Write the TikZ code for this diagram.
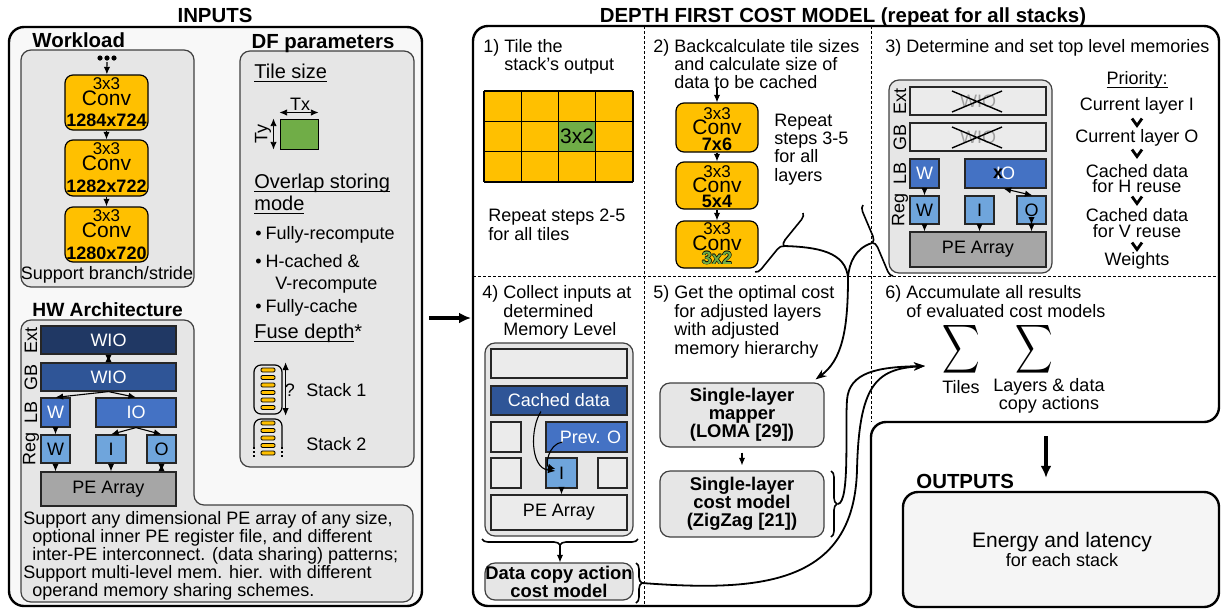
\documentclass[tikz,border=0pt]{standalone}
\usepackage{fontspec}
\usepackage{graphicx}
\setmainfont{Liberation Sans}
\usetikzlibrary{arrows.meta,decorations.pathreplacing}

\definecolor{convfill}{HTML}{FFC000}
\definecolor{tilegreen}{HTML}{70AD47}
\definecolor{extblue}{HTML}{203864}
\definecolor{gbblue}{HTML}{2F5597}
\definecolor{lbblue}{HTML}{4472C4}
\definecolor{regblue}{HTML}{6FA5DC}
\definecolor{pegray}{HTML}{A6A6A6}
\definecolor{panel}{HTML}{E6E6E6}
\definecolor{slot}{HTML}{EBEBEB}
\definecolor{panelline}{HTML}{404040}
\definecolor{inbg}{HTML}{F8F8F8}
\definecolor{outbg}{HTML}{F5F5F5}
\definecolor{struck}{HTML}{A0A0A0}

\newcommand\setfs[2]{\fontsize{#1}{#2}\selectfont}
\newsavebox\ulbox
\newcommand\ulx[1]{\sbox\ulbox{#1}\rlap{\rule[-1.8pt]{\wd\ulbox}{0.5pt}}\usebox\ulbox}
\newcommand\txtlines[1]{\begin{tabular}[t]{@{}l@{}}#1\end{tabular}}
\newcommand\outlined[1]{\leavevmode
  \rlap{\hspace*{-0.35pt}#1}\rlap{\hspace*{0.35pt}#1}%
  \rlap{\raisebox{0.35pt}{#1}}\rlap{\raisebox{-0.35pt}{#1}}%
  \textcolor{tilegreen}{#1}}

\begin{document}
\begin{tikzpicture}[x=0.5pt,y=-0.5pt,
  >={Latex[length=3.8pt,width=3.2pt]},
  sz/.style 2 args={minimum width=#1*0.5pt, minimum height=#2*0.5pt},
  bigbox/.style={draw, line width=1.2pt, rounded corners=7.5pt, inner sep=0},
  panelbox/.style={draw=panelline, fill=panel, line width=0.6pt, rounded corners=5pt, inner sep=0},
  mem/.style={draw=black!85, line width=0.6pt, inner sep=0, font=\setfs{9}{9}},
  conv/.style={draw, fill=convfill, line width=0.6pt, rounded corners=4pt, inner sep=0},
  lbl/.style={inner sep=0, font=\setfs{9}{9}},
  para/.style={inner sep=0, anchor=base west, font=\setfs{9}{#1}},
  head/.style={inner sep=0, anchor=base, font=\setfs{10.2}{11}\bfseries},
  sub/.style={inner sep=0, anchor=base west, font=\setfs{10}{11}},
  ck/.style={inner sep=0, font=\setfs{8.5}{8.5}},
  cc/.style={inner sep=0, font=\setfs{10.5}{10.5}},
  cs/.style={inner sep=0, font=\setfs{9}{9}\bfseries},
  tool/.style={draw=panelline, fill=panel, line width=0.6pt, rounded corners=5pt, inner sep=0, align=center, font=\setfs{9.2}{9}\bfseries},
  arr/.style={->, line width=0.55pt},
  darr/.style={<->, line width=0.55pt},
  flow/.style={line width=0.9pt},
  flowarr/.style={line width=0.9pt, -{Stealth[length=5.5pt,width=4pt]}},
  bigarr/.style={line width=1.6pt, -{Latex[length=6pt,width=5.5pt]}},
  brc/.style={decorate, decoration={brace, amplitude=3pt}, line width=0.8pt},
  chev/.style={line width=1.4pt},
  divider/.style={line width=0.4pt, dash pattern=on 1.5pt off 1pt},
  bar/.style={draw, fill=convfill, line width=0.4pt, rounded corners=0.6pt},
]
\useasboundingbox (0,0) rectangle (1222,612);

%% ================= INPUTS =================
\node[bigbox, fill=inbg, sz={413}{579}] (inputs) at (215.5,316.5) {};
\node[head] (inputsT) at (215,22) {INPUTS};

% --- workload ---
\node[panelbox, sz={173}{237}] (wlpanel) at (107.5,168.5) {};
\node[head, anchor=base west] (wlT) at (32,47) {Workload};
\foreach \dx in {-7,0,7} \fill (107+\dx,58) circle (1.3pt);
\coordinate (wldots) at (107,62);
\node[conv, sz={83}{55}] (wa) at (106.5,102.5) {};
\node[conv, sz={83}{56}] (wb) at (106.5,168) {};
\node[conv, sz={83}{55}] (wc) at (106.5,234.5) {};
\node[ck] (wak) at (106.5,84) {3x3};
\node[cc] (wac) at (106.5,98) {Conv};
\node[cs] (was) at (106.5,120) {1284x724};
\node[ck] (wbk) at (106.5,149) {3x3};
\node[cc] (wbc) at (106.5,163) {Conv};
\node[cs] (wbs) at (106.5,186) {1282x722};
\node[ck] (wck) at (106.5,216) {3x3};
\node[cc] (wcc) at (106.5,230) {Conv};
\node[cs] (wcs) at (106.5,253) {1280x720};
\draw[arr] (wldots) -- (wa);
\draw[arr] (wa) -- (wb);
\draw[arr] (wb) -- (wc);
\node[lbl] (wlnote) at (107,275) {Support branch/stride};

% --- DF parameters ---
\node[panelbox, sz={174}{416}] (dfpanel) at (327,259) {};
\node[head] (dfT) at (323,48) {DF parameters};
\node[sub] (tsT) at (254,78) {\ulx{Tile size}};
\node[draw, fill=tilegreen, line width=0.5pt, sz={38}{30}, inner sep=0] (tile) at (299,134) {};
\draw[darr, line width=0.4pt] ([yshift=3pt]tile.north west) -- ([yshift=3pt]tile.north east);
\node[lbl] (tx) at (300,104) {Tx};
\draw[darr, line width=0.4pt] ([xshift=-3pt]tile.north west) -- ([xshift=-3pt]tile.south west);
\node[lbl, rotate=90] (ty) at (263,134) {Ty};
\node[sub] (osT) at (254,188) {\txtlines{\ulx{Overlap storing}\\\ulx{mode}}};
\node[para=9] (ov1) at (255,239.5) {\textbullet\hspace{2pt}Fully-recompute};
\node[para=9] (ov2) at (255,267.5) {\textbullet\hspace{2pt}H-cached \&};
\node[para=9] (ov2b) at (275,289.5) {V-recompute};
\node[para=9] (ov3) at (255,312.5) {\textbullet\hspace{2pt}Fully-cache};
\node[sub] (fdT) at (254,338) {\ulx{Fuse depth}*};
% stack 1
\node[draw, line width=0.6pt, rounded corners=3.5pt, sz={28}{49}, inner sep=0] (st1) at (268,389.5) {};
\foreach \y in {370,377.5,385,392.5,400,407.5} \draw[bar] (261,\y-2) rectangle (275,\y+2);
\draw[darr, line width=0.4pt] ([xshift=1.5pt,yshift=1pt]st1.north east) -- ([xshift=1.5pt,yshift=-0.5pt]st1.south east);
\node[lbl] (q1) at (290,390) {?};
\node[para=9] (s1lbl) at (306,396.5) {Stack 1};
% stack 2
\draw[line width=0.6pt, rounded corners=3.5pt] (254,447) -- (254,419) -- (282,419) -- (282,447);
\draw[line width=0.6pt, dash pattern=on 1pt off 1pt] (254,447) -- (254,457) (282,447) -- (282,457);
\foreach \y in {423,430.5,438,445.5,453} \draw[bar] (261,\y-2) rectangle (275,\y+2);
\node[para=9] (s2lbl) at (306,450.5) {Stack 2};

% --- HW architecture ---
\draw[panelbox] (21,320) -- (194,320) -- (194,505) -- (413,505) -- (413,602) -- (21,602) -- cycle;
\node[head, anchor=base west, font=\setfs{9.6}{11}\bfseries] (hwT) at (32,316) {HW Architecture};
\node[mem, fill=extblue, text=white, sz={135}{28}] (hext) at (108.5,340) {WIO};
\node[mem, fill=gbblue, text=white, sz={135}{28}] (hgb) at (108.5,377) {WIO};
\node[mem, fill=lbblue, text=white, sz={29}{29}] (hlbw) at (55.5,412.5) {W};
\node[mem, fill=lbblue, text=white, sz={80}{29}] (hlbio) at (136,412.5) {IO};
\node[mem, fill=regblue, sz={29}{28}] (hrw) at (55.5,449) {W};
\node[mem, fill=regblue, sz={30}{28}] (hri) at (111,449) {I};
\node[mem, fill=regblue, sz={29}{28}] (hro) at (161.5,449) {O};
\node[mem, fill=pegray, sz={135}{34}] (hpe) at (108.5,489) {PE Array};
\node[lbl, rotate=90] (hlext) at (31,340) {Ext};
\node[lbl, rotate=90] (hlgb) at (31,377) {GB};
\node[lbl, rotate=90] (hllb) at (31,412.5) {LB};
\node[lbl, rotate=90] (hlreg) at (31,449) {Reg};
\draw[darr] (hext) -- (hgb);
\draw[arr] (hgb.south) -- (hlbw.north);
\draw[arr] (hgb.south) -- (hlbio.north);
\draw[arr] (hlbw) -- (hrw);
\draw[arr] (hlbio.south) -- (hri.north);
\draw[arr] (hlbio.south) -- (hro.north);
\draw[arr] (hrw) -- (hrw |- hpe.north);
\draw[arr] (hri) -- (hri |- hpe.north);
\draw[darr] (hro) -- (hro |- hpe.north);
\node[para=8.5] (hwtxt1) at (23,524.5) {\txtlines{Support any dimensional PE array of any size,\\\hspace*{4.5pt}optional inner PE register file, and different\\\hspace*{4.5pt}inter-PE interconnect. (data sharing) patterns;}};
\node[para=8.8] (hwtxt2) at (23,578.5) {\txtlines{Support multi-level mem. hier. with different\\\hspace*{4.5pt}operand memory sharing schemes.}};

%% ================= DEPTH FIRST COST MODEL =================
\coordinate (dfin) at (471,318);
\draw[bigarr, shorten <=3pt] (inputs.east |- dfin) -- (dfin);
\draw[bigbox, fill=white] (473,606) -- (473,26) -- (1219,26) -- (1219,422) -- (871,422) -- (871,606) -- cycle;
\draw[divider] (473,276) -- (1219,276);
\draw[divider] (644,26) -- (644,606);
\draw[divider] (871,26) -- (871,422);
\node[head] (dfcmT) at (843,22) {DEPTH FIRST COST MODEL (repeat for all stacks)};

% --- step 1: tiling ---
\node[para=8.75] (r1T) at (483,52.5) {1)~\txtlines{Tile the\\stack's output}};
\fill[convfill] (484,91) rectangle (633,182);
\fill[tilegreen] (558.5,121.33) rectangle (595.75,151.67);
\foreach \x in {484,521.25,558.5,595.75,633} \draw[line width=0.6pt] (\x,91) -- (\x,182);
\foreach \y in {91,121.33,151.67,182} \draw[line width=0.6pt] (484,\y) -- (633,\y);
\node[cc] (tile32) at (577,136.5) {3x2};
\node[para=9.5] (r1rep) at (488,221.5) {\txtlines{Repeat steps 2-5\\for all tiles}};

% --- step 2: back-calculation ---
\node[para=8.5] (r2T) at (653,52.5) {2)~\txtlines{Backcalculate tile sizes\\and calculate size of\\data to be cached}};
\coordinate (r2in) at (717,88);
\node[conv, sz={82}{49}] (rc1) at (717,127.5) {};
\node[conv, sz={82}{47}] (rc2) at (717,185.5) {};
\node[conv, sz={82}{47}] (rc3) at (717,244.5) {};
\node[ck] (rc1k) at (717,114) {3x3};
\node[cc] (rc1c) at (717,127) {Conv};
\node[cs] (rc1s) at (717,144) {7x6};
\node[ck] (rc2k) at (717,172) {3x3};
\node[cc] (rc2c) at (717,185) {Conv};
\node[cs] (rc2s) at (717,201) {5x4};
\node[ck] (rc3k) at (717,229) {3x3};
\node[cc] (rc3c) at (717,243) {Conv};
\node[cs] (rc3s) at (717,258) {\outlined{3x2}};
\draw[arr] (r2in) -- (rc1);
\draw[arr] (rc1) -- (rc2);
\draw[arr] (rc2) -- (rc3);
\node[para=9] (r2rep) at (774,126.5) {\txtlines{Repeat\\steps 3-5\\for all\\layers}};

% --- step 3: top level memories ---
\node[para=9] (r3T) at (885,52.5) {3)~Determine and set top level memories};
\node[panelbox, sz={163}{193}] (panel3) at (970.5,176.5) {};
\node[mem, fill=slot, text=struck, sz={136}{28}] (m3ext) at (978,101) {WIO};
\node[mem, fill=slot, text=struck, sz={136}{28}] (m3gb) at (978,137) {WIO};
\draw[line width=0.7pt] (952,91) -- (1002,112) (952,112) -- (1002,91);
\draw[line width=0.7pt] (952,127) -- (1002,148) (952,148) -- (1002,127);
\node[mem, fill=lbblue, text=white, sz={29}{29}] (m3lbw) at (924.5,173.5) {W};
\node[mem, fill=lbblue, text=white, sz={81}{29}] (m3lbio) at (1005.5,173.5) {IO};
\node[inner sep=0, font=\setfs{9}{9}\bfseries] (m3x) at (998,174) {x};
\node[mem, fill=regblue, sz={29}{28}] (m3rw) at (924.5,210) {W};
\node[mem, fill=regblue, sz={29}{28}] (m3ri) at (979.5,210) {I};
\node[mem, fill=regblue, sz={29}{28}] (m3ro) at (1031.5,210) {O};
\node[mem, fill=pegray, sz={136}{35}] (m3pe) at (978,249.5) {PE Array};
\node[lbl, rotate=90] (m3lext) at (900,101) {Ext};
\node[lbl, rotate=90] (m3lgb) at (900,137) {GB};
\node[lbl, rotate=90] (m3llb) at (900,173.5) {LB};
\node[lbl, rotate=90] (m3lreg) at (900,210) {Reg};
\draw[arr] (m3lbw) -- (m3rw);
\draw[arr] (m3rw) -- (m3rw |- m3pe.north);
\draw[arr] (m3ri) -- (m3ri |- m3pe.north);
\draw[darr] (m3ro) -- (m3ro |- m3pe.north);
\draw[darr] ([xshift=0.5pt]m3ro.north) -- ([xshift=-1pt]m3lbio.south);
% priority list
\node[lbl] (prT) at (1137,80) {\ulx{Priority:}};
\node[lbl] (p1) at (1137,106) {Current layer I};
\node[lbl] (p2) at (1137,138) {Current layer O};
\node[lbl] (p3) at (1137,171) {Cached data};
\node[lbl] (p3b) at (1137,186) {for H reuse};
\node[lbl] (p4) at (1137,215) {Cached data};
\node[lbl] (p4b) at (1137,231) {for V reuse};
\node[lbl] (p5) at (1137,261) {Weights};
\foreach \y in {122,153,200,246} \draw[chev] (1132,\y-3.5) -- (1137,\y+3.5) -- (1142,\y-3.5);

% --- step 4: collect inputs ---
\node[para=9.2] (r4T) at (482,298.5) {4)~\txtlines{Collect inputs at\\determined\\Memory Level}};
\node[panelbox, sz={148}{193}] (panel4) at (559,439.5) {};
\node[mem, fill=slot, sz={136}{29}] (m4top) at (559,363.5) {};
\node[mem, fill=gbblue, text=white, sz={136}{29}] (m4cache) at (559,400.5) {Cached data};
\node[mem, fill=slot, sz={30}{30}] (m4e1) at (506,437) {};
\node[mem, fill=lbblue, text=white, sz={81}{30}] (m4prev) at (586.5,437) {\hspace*{4pt}Prev. O};
\node[mem, fill=slot, sz={30}{30}] (m4e2) at (506,473) {};
\node[mem, fill=regblue, sz={31}{30}] (m4i) at (561.5,473) {I};
\node[mem, fill=slot, sz={29}{30}] (m4e3) at (612.5,473) {};
\node[mem, fill=slot, sz={136}{35}] (m4pe) at (559,512.5) {PE Array};
\draw[arr] ([xshift=-9pt,yshift=-5.5pt]m4cache.center) .. controls (530,428) and (530,468) .. ([xshift=-3pt,yshift=1pt]m4i.center);
\draw[arr] ([xshift=-12pt,yshift=-2.5pt]m4prev.center) .. controls (548,444) and (545,466) .. ([xshift=-3pt,yshift=2pt]m4i.center);
\draw[arr] (m4i) -- (m4i |- m4pe.north);
\draw[brc] (638,539) -- (482,539);
\coordinate (b4tip) at (560,545);
\node[tool, sz={148}{37}] (dcopy) at (559,581.5) {Data copy action\\cost model};
\draw[arr] (b4tip) -- (b4tip |- dcopy.north);
\draw[brc] (636,563) -- (636,603);
\coordinate (bD) at (642,583);

% --- step 5: single-layer cost ---
\node[para=9.15] (r5T) at (653,298.5) {5)~\txtlines{Get the optimal cost\\for adjusted layers\\with adjusted\\memory hierarchy}};
\node[tool, sz={164}{64}] (mapper) at (742,415) {Single-layer\\mapper\\(LOMA [29])};
\node[tool, sz={164}{66}] (costm) at (742,504) {Single-layer\\cost model\\(ZigZag [21])};
\draw[arr, shorten <=2.5pt, shorten >=2.5pt] (mapper) -- (costm);
\draw[brc] (831,471) -- (831,537);
\coordinate (bC) at (838,504);

% braces collecting the layers and the memory setting
\draw[brc] (803,213) -- (755,272);
\draw[brc] (893,276) -- (863,205);
\coordinate (bA) at (784,246);
\coordinate (bB) at (872,243);
\coordinate (mj) at (848,278);
\draw[flow] (bA) .. controls (818,247) and (846,252) .. (mj);
\draw[flow] (bB) .. controls (856,248) and (849,262) .. (mj);
\draw[flowarr] (mj) .. controls (848,330) and (842,360) .. ([xshift=-4.5pt,yshift=1.5pt]mapper.north east);

% --- step 6: accumulation ---
\node[para=9.5] (r6T) at (885,298.5) {6)~\txtlines{Accumulate all results\\of evaluated cost models}};
\node[inner sep=0] (sig1) at (961.5,349) {\scalebox{1.3}[1.7]{$\displaystyle\sum$}};
\node[inner sep=0] (sig2) at (1034.5,349) {\scalebox{1.3}[1.7]{$\displaystyle\sum$}};
\node[lbl] (sigT) at (961,387) {Tiles};
\node[lbl, align=center, font=\setfs{9}{9.3}] (sigL) at (1049,396) {Layers \& data\\copy actions};
\coordinate (sigin) at (925,366);
\draw[flowarr] (bC) .. controls (850,502) and (845,430) .. (847,400) .. controls (849,372) and (878,367) .. (sigin);
\draw[flowarr] (bD) .. controls (760,592) and (854,585) .. (857,470) .. controls (859,385) and (876,369) .. (sigin);

%% ================= OUTPUTS =================
\node[bigbox, fill=outbg, sz={316}{115}] (outbox) at (1061,549.5) {};
\coordinate (r6bot) at (1046,436);
\draw[bigarr] (r6bot) -- ([yshift=6.5pt]outbox.north -| r6bot);
\node[head, anchor=base west] (outT) at (916,488) {OUTPUTS};
\node[inner sep=0, font=\setfs{10.5}{10.5}] (energy) at (1062,542) {Energy and latency};
\node[lbl] (perstack) at (1062,560) {for each stack};
\end{tikzpicture}
\end{document}
